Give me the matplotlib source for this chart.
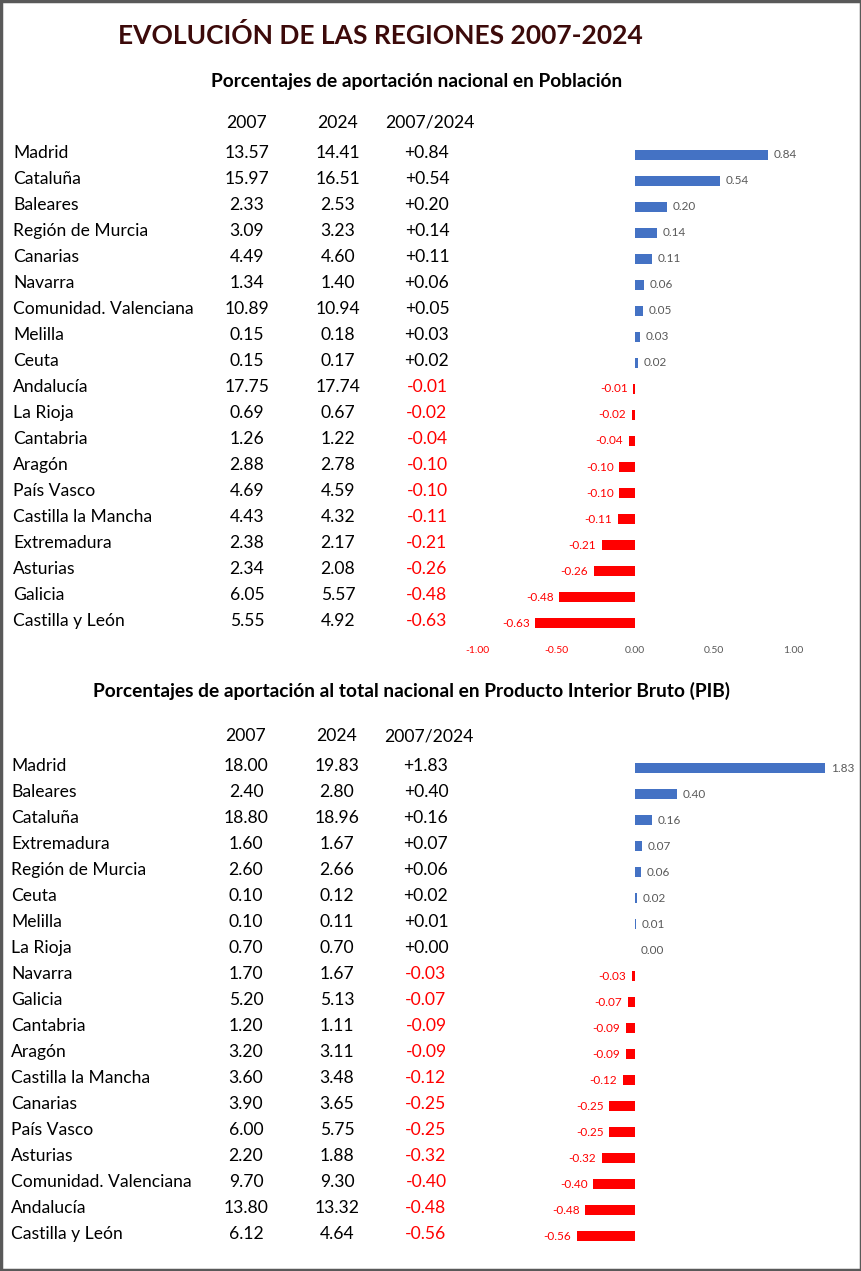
import matplotlib.pyplot as plt
from matplotlib.patches import Rectangle

plt.rcParams['font.family'] = ['Lato', 'DejaVu Sans']

# Population table
pob_regiones = ['Madrid', 'Cataluña', 'Baleares', 'Región de Murcia', 'Canarias', 'Navarra',
                'Comunidad. Valenciana', 'Melilla', 'Ceuta', 'Andalucía', 'La Rioja', 'Cantabria',
                'Aragón', 'País Vasco', 'Castilla la Mancha', 'Extremadura', 'Asturias', 'Galicia',
                'Castilla y León']
pob_2007 = [13.57, 15.97, 2.33, 3.09, 4.49, 1.34, 10.89, 0.15, 0.15, 17.75, 0.69, 1.26,
            2.88, 4.69, 4.43, 2.38, 2.34, 6.05, 5.55]
pob_2024 = [14.41, 16.51, 2.53, 3.23, 4.60, 1.40, 10.94, 0.18, 0.17, 17.74, 0.67, 1.22,
            2.78, 4.59, 4.32, 2.17, 2.08, 5.57, 4.92]
pob_dif = [0.84, 0.54, 0.20, 0.14, 0.11, 0.06, 0.05, 0.03, 0.02, -0.01, -0.02, -0.04,
           -0.10, -0.10, -0.11, -0.21, -0.26, -0.48, -0.63]
pob_ticks = [-1.0, -0.5, 0.0, 0.5, 1.0]

# PIB table
pib_regiones = ['Madrid', 'Baleares', 'Cataluña', 'Extremadura', 'Región de Murcia', 'Ceuta',
                'Melilla', 'La Rioja', 'Navarra', 'Galicia', 'Cantabria', 'Aragón',
                'Castilla la Mancha', 'Canarias', 'País Vasco', 'Asturias',
                'Comunidad. Valenciana', 'Andalucía', 'Castilla y León']
pib_2007 = [18.00, 2.40, 18.80, 1.60, 2.60, 0.10, 0.10, 0.70, 1.70, 5.20, 1.20, 3.20,
            3.60, 3.90, 6.00, 2.20, 9.70, 13.80, 6.12]
pib_2024 = [19.83, 2.80, 18.96, 1.67, 2.66, 0.12, 0.11, 0.70, 1.67, 5.13, 1.11, 3.11,
            3.48, 3.65, 5.75, 1.88, 9.30, 13.32, 4.64]
pib_dif = [1.83, 0.40, 0.16, 0.07, 0.06, 0.02, 0.01, 0.00, -0.03, -0.07, -0.09, -0.09,
           -0.12, -0.25, -0.25, -0.32, -0.40, -0.48, -0.56]

W, H = 862, 1271
AZUL = '#4472C4'
ROJO = '#FF0000'
GRIS = '#595959'
ROW = 26
FS = 12.6

fig = plt.figure(figsize=(W / 100, H / 100), dpi=100)
fig.patch.set_facecolor('white')


def fx(px):
    return px / W


def fy(py):
    return 1 - py / H


def txt(x, y, s, **kw):
    fig.text(fx(x), fy(y), s, va='center', **kw)


# frame
fig.add_artist(Rectangle((0.001, 0.001), 0.998, 0.998, transform=fig.transFigure,
                         fill=False, edgecolor='#595959', linewidth=2.5))

txt(380, 36, 'EVOLUCIÓN DE LAS REGIONES 2007-2024', ha='center', fontsize=19,
    fontweight='bold', color='#3C0A0A')


def bloque(titulo, tsize, ty, hy, y0, xname, cols, regiones, v07, v24, dif, scale, ticks):
    txt(cols[3], ty, titulo, ha='center', fontsize=tsize, fontweight='bold', color='black')
    txt(cols[0], hy, '2007', ha='center', fontsize=FS)
    txt(cols[1], hy, '2024', ha='center', fontsize=FS)
    txt(cols[2] + 3, hy, '2007/2024', ha='center', fontsize=FS)
    for i, r in enumerate(regiones):
        y = y0 + i * ROW
        txt(xname, y, r, ha='left', fontsize=FS)
        txt(cols[0], y, f'{v07[i]:.2f}', ha='center', fontsize=FS)
        txt(cols[1], y, f'{v24[i]:.2f}', ha='center', fontsize=FS)
        c = ROJO if dif[i] < 0 else 'black'
        s = f'{dif[i]:.2f}' if dif[i] < 0 else f'+{dif[i]:.2f}'
        txt(cols[2], y, s, ha='center', fontsize=FS, color=c)

    # bar chart
    zero = 635
    left, right = 455, 850
    top_l, bot_l = -0.6, len(regiones) - 0.4
    by0 = y0 + 2
    top_px = by0 + top_l * ROW
    bot_px = by0 + bot_l * ROW
    ax = fig.add_axes([fx(left), fy(bot_px), (right - left) / W, (bot_px - top_px) / H])
    ax.set_xlim((left - zero) / scale, (right - zero) / scale)
    ax.set_ylim(bot_l, top_l)
    pos = list(range(len(regiones)))
    colores = [ROJO if d < 0 else AZUL for d in dif]
    ax.barh(pos, dif, height=0.36, color=colores)
    for p, d in zip(pos, dif):
        if d < 0:
            ax.annotate(f'{d:.2f}', (d, p), xytext=(-4, 0), textcoords='offset points',
                        ha='right', va='center', fontsize=8.5, color=ROJO)
        else:
            ax.annotate(f'{d:.2f}', (d, p), xytext=(4, 0), textcoords='offset points',
                        ha='left', va='center', fontsize=8.5, color=GRIS)
    for s in ax.spines.values():
        s.set_visible(False)
    ax.set_yticks([])
    if ticks:
        ax.set_xticks(ticks)
        ax.set_xticklabels([f'{t:.2f}' for t in ticks], fontsize=7.5)
        for lab, t in zip(ax.get_xticklabels(), ticks):
            lab.set_color(ROJO if t < 0 else GRIS)
        ax.tick_params(axis='x', length=0, pad=5)
    else:
        ax.set_xticks([])
    ax.patch.set_alpha(0)


bloque('Porcentajes de aportación nacional en Población', 13.8, 81, 123, 153, 13,
       [247, 338, 427, 417], pob_regiones, pob_2007, pob_2024, pob_dif, 158, pob_ticks)
bloque('Porcentajes de aportación al total nacional en Producto Interior Bruto (PIB)', 13.8,
       691, 736, 766, 11, [246, 337, 426, 412], pib_regiones, pib_2007, pib_2024, pib_dif,
       104, None)

fig.savefig('out.png', dpi=100)
